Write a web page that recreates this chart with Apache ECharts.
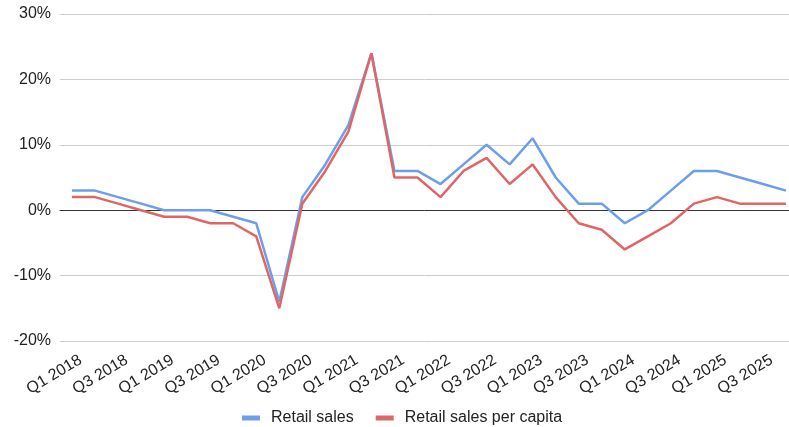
<!DOCTYPE html>
<html>
<head>
<meta charset="utf-8">
<script src="https://cdn.jsdelivr.net/npm/echarts@6/dist/echarts.min.js"></script>
<style>
  html, body { margin: 0; padding: 0; background: #fff; }
  #chart { width: 789px; height: 427px; }
</style>
</head>
<body>
<div id="chart"></div>
<script>
// 季度
var quarters = [];
for (var y = 2018; y <= 2025; y++) {
    for (var q = 1; q <= 4; q++) {
        quarters.push('Q' + q + ' ' + y);
    }
}

// 零售额同比(%)
var retailSales = [3, 3, 2, 1, 0, 0, 0, -1, -2, -14, 2, 7, 13, 24, 6, 6,
                   4, 7, 10, 7, 11, 5, 1, 1, -2, 0, 3, 6, 6, 5, 4, 3];
// 人均零售额同比(%)
var retailPerCapita = [2, 2, 1, 0, -1, -1, -2, -2, -4, -15, 1, 6, 12, 24, 5, 5,
                       2, 6, 8, 4, 7, 2, -2, -3, -6, -4, -2, 1, 2, 1, 1, 1];

var yTicks = [-20, -10, 0, 10, 20, 30];
var yMin = yTicks[0], yMax = yTicks[yTicks.length - 1];

var myChart = echarts.init(document.getElementById('chart'));

myChart.setOption({
    color: ['#6d9eeb', '#e06666'],
    animation: false,
    textStyle: {
        fontFamily: 'Liberation Sans, Arial, sans-serif'
    },
    // grid 0: 数据区, grid 1: 背景网格线和y轴标签
    grid: [
        { left: 72, right: 3, top: 14, height: 327 },
        { left: 60, right: 0, top: 14, height: 327 }
    ],
    legend: {
        top: 405,
        left: 237,
        icon: 'rect',
        itemWidth: 18,
        itemHeight: 5,
        itemGap: 22,
        textStyle: {
            fontSize: 16,
            color: '#222',
            padding: [0, 0, 0, 6]
        },
        data: ['Retail sales', 'Retail sales per capita']
    },
    xAxis: [
        {
            gridIndex: 0,
            type: 'category',
            boundaryGap: false,
            data: quarters,
            axisTick: { show: false },
            axisLine: { show: false },
            splitLine: { show: false },
            axisLabel: {
                interval: 1,
                rotate: 31,
                fontSize: 16,
                color: '#222',
                margin: 23,
                padding: [0, -10, 0, 0]
            }
        },
        {
            gridIndex: 1,
            type: 'value',
            min: 0,
            max: 1,
            axisTick: { show: false },
            axisLabel: { show: false },
            splitLine: { show: false },
            axisLine: {
                onZero: true,
                lineStyle: { color: '#333', width: 1 }
            }
        }
    ],
    yAxis: [
        {
            gridIndex: 0,
            type: 'value',
            min: yMin,
            max: yMax,
            interval: 10,
            show: false,
            splitLine: { show: false }
        },
        {
            gridIndex: 1,
            type: 'value',
            min: yMin,
            max: yMax,
            interval: 10,
            axisLine: { show: false },
            axisTick: { show: false },
            axisLabel: {
                formatter: '{value}%',
                fontSize: 16,
                color: '#222',
                margin: 9
            },
            splitLine: {
                lineStyle: { color: '#cccccc', width: 1 }
            }
        }
    ],
    series: [
        {
            name: 'Retail sales',
            type: 'line',
            xAxisIndex: 0,
            yAxisIndex: 0,
            data: retailSales,
            showSymbol: false,
            symbol: 'none',
            z: 3,
            lineStyle: { width: 2.5 }
        },
        {
            name: 'Retail sales per capita',
            type: 'line',
            xAxisIndex: 0,
            yAxisIndex: 0,
            data: retailPerCapita,
            showSymbol: false,
            symbol: 'none',
            z: 3,
            lineStyle: { width: 2.5 }
        }
    ]
});
</script>
</body>
</html>
